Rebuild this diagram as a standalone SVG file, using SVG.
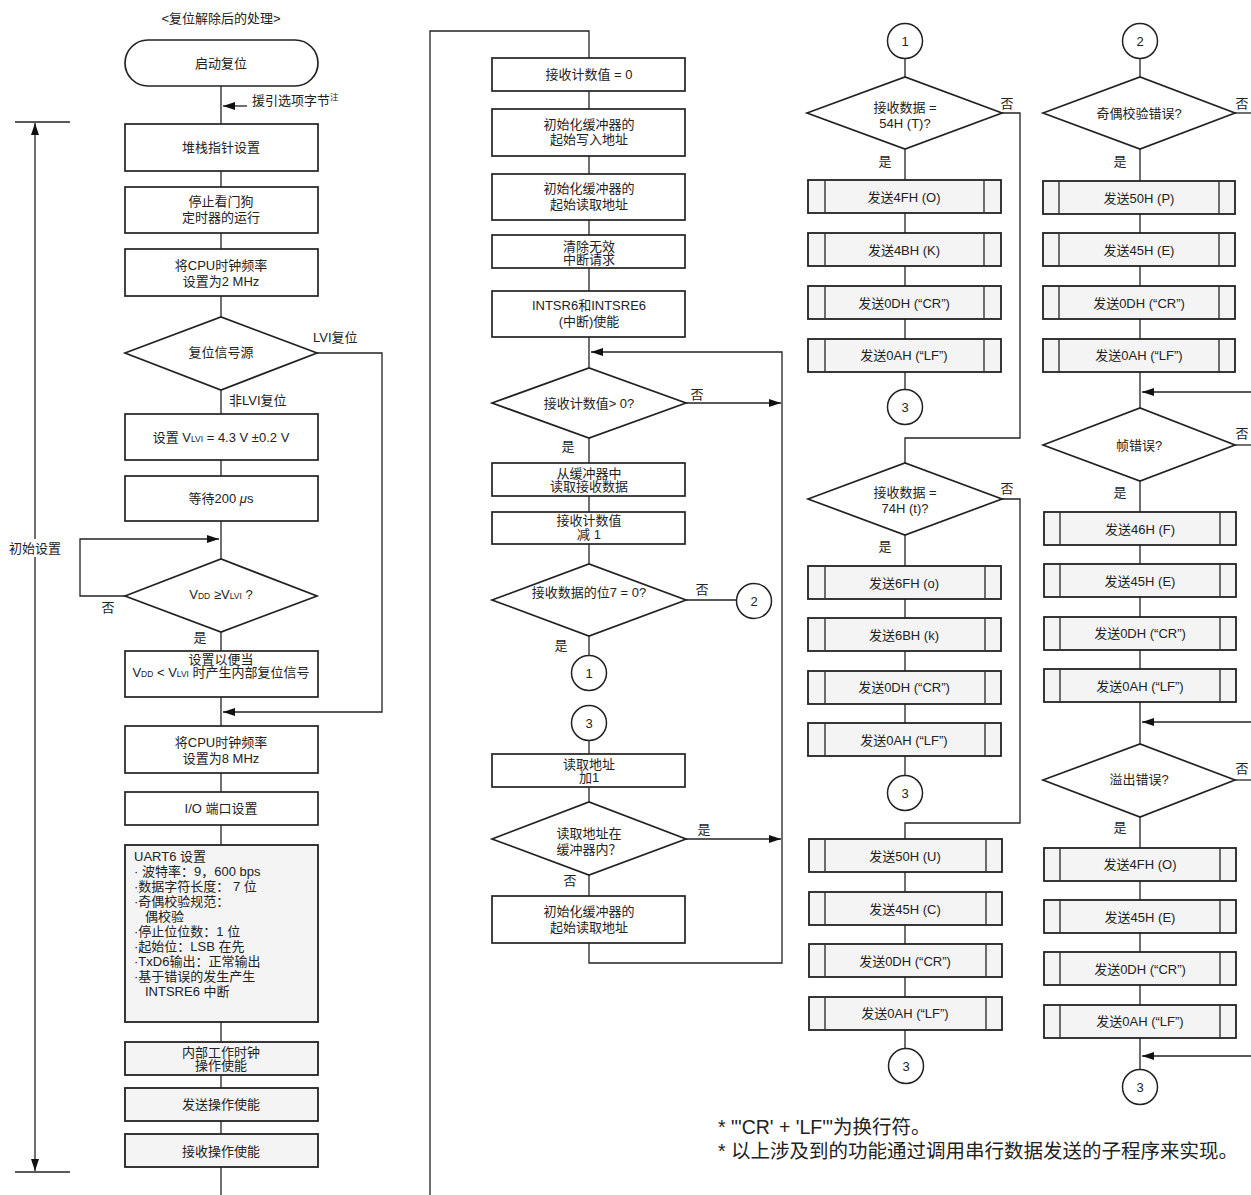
<svg xmlns="http://www.w3.org/2000/svg" width="1251" height="1195" viewBox="0 0 1251 1195">
<defs>
<style>
.b{fill:#fff;stroke:#222;stroke-width:1.7}
.g{fill:#f4f4f4;stroke:#222;stroke-width:1.8}
.bar{stroke:#333;stroke-width:1.4}
.ln{fill:none;stroke:#222;stroke-width:1.3}
.c{fill:#fff;stroke:#222;stroke-width:1.5}
text{font-family:"Liberation Sans","Noto Sans CJK SC",sans-serif;font-size:13px;fill:#222}
.m{text-anchor:middle}
.sub{font-size:8.5px}
.fn{font-size:19.5px}
</style>
<marker id="ar" viewBox="0 0 12 8" refX="12" refY="4" markerWidth="12" markerHeight="8" markerUnits="userSpaceOnUse" orient="auto-start-reverse"><path d="M0,0 L12,4 L0,8 z" fill="#111"/></marker>
</defs>

<g id="connectors">
<!-- left column -->
<line class="ln" x1="221" y1="86" x2="221" y2="124"/>
<line class="ln" x1="247" y1="106" x2="223" y2="106" marker-end="url(#ar)"/>
<line class="ln" x1="221" y1="171" x2="221" y2="187"/>
<line class="ln" x1="221" y1="233" x2="221" y2="249"/>
<line class="ln" x1="221" y1="296" x2="221" y2="317"/>
<line class="ln" x1="221" y1="390" x2="221" y2="414"/>
<polyline class="ln" points="317,353 382,353 382,712 223,712" marker-end="url(#ar)"/>
<line class="ln" x1="221" y1="460" x2="221" y2="476"/>
<line class="ln" x1="221" y1="521" x2="221" y2="559"/>
<polyline class="ln" points="125,596 80,596 80,539 219,539" marker-end="url(#ar)"/>
<line class="ln" x1="221" y1="632" x2="221" y2="651"/>
<line class="ln" x1="221" y1="697" x2="221" y2="726"/>
<line class="ln" x1="221" y1="773" x2="221" y2="792"/>
<line class="ln" x1="221" y1="825" x2="221" y2="845"/>
<line class="ln" x1="221" y1="1022" x2="221" y2="1042"/>
<line class="ln" x1="221" y1="1075" x2="221" y2="1088"/>
<line class="ln" x1="221" y1="1121" x2="221" y2="1134"/>
<line class="ln" x1="221" y1="1167" x2="221" y2="1195"/>
<!-- bracket -->
<line class="ln" x1="15" y1="122" x2="70" y2="122"/>
<line class="ln" x1="15" y1="1172" x2="70" y2="1172"/>
<line class="ln" x1="35" y1="123" x2="35" y2="1171" marker-start="url(#ar)" marker-end="url(#ar)"/>

<!-- middle column -->
<polyline class="ln" points="430,1195 430,31 589,31 589,58"/>
<line class="ln" x1="589" y1="91" x2="589" y2="109"/>
<line class="ln" x1="589" y1="156" x2="589" y2="174"/>
<line class="ln" x1="589" y1="220" x2="589" y2="235"/>
<line class="ln" x1="589" y1="268" x2="589" y2="291"/>
<line class="ln" x1="589" y1="337" x2="589" y2="368"/>
<polyline class="ln" points="589,943 589,963 782,963 782,352 591,352" marker-end="url(#ar)"/>
<line class="ln" x1="686" y1="403" x2="781" y2="403" marker-end="url(#ar)"/>
<line class="ln" x1="589" y1="438" x2="589" y2="463"/>
<line class="ln" x1="589" y1="496" x2="589" y2="512"/>
<line class="ln" x1="589" y1="544" x2="589" y2="564"/>
<line class="ln" x1="686" y1="600" x2="736" y2="600"/>
<line class="ln" x1="589" y1="636" x2="589" y2="656"/>
<line class="ln" x1="589" y1="741" x2="589" y2="754"/>
<line class="ln" x1="589" y1="787" x2="589" y2="802"/>
<line class="ln" x1="686" y1="839" x2="781" y2="839" marker-end="url(#ar)"/>
<line class="ln" x1="589" y1="875" x2="589" y2="896"/>

<!-- right column 1 -->
<line class="ln" x1="905" y1="58" x2="905" y2="77"/>
<polyline class="ln" points="1002,113 1020,113 1020,438 905,438 905,463"/>
<line class="ln" x1="905" y1="149" x2="905" y2="180"/>
<line class="ln" x1="905" y1="213" x2="905" y2="233"/>
<line class="ln" x1="905" y1="266" x2="905" y2="286"/>
<line class="ln" x1="905" y1="319" x2="905" y2="339"/>
<line class="ln" x1="905" y1="372" x2="905" y2="390"/>
<polyline class="ln" points="1002,499 1020,499 1020,823 905,823 905,839"/>
<line class="ln" x1="905" y1="535" x2="905" y2="566"/>
<line class="ln" x1="905" y1="599" x2="905" y2="618"/>
<line class="ln" x1="905" y1="651" x2="905" y2="671"/>
<line class="ln" x1="905" y1="704" x2="905" y2="723"/>
<line class="ln" x1="905" y1="756" x2="905" y2="776"/>
<line class="ln" x1="905" y1="872" x2="905" y2="892"/>
<line class="ln" x1="905" y1="925" x2="905" y2="944"/>
<line class="ln" x1="905" y1="977" x2="905" y2="997"/>
<line class="ln" x1="905" y1="1030" x2="905" y2="1049"/>

<!-- right column 2 -->
<line class="ln" x1="1140" y1="58" x2="1140" y2="77"/>
<line class="ln" x1="1235" y1="113" x2="1251" y2="113"/>
<line class="ln" x1="1140" y1="149" x2="1140" y2="181"/>
<line class="ln" x1="1140" y1="214" x2="1140" y2="233"/>
<line class="ln" x1="1140" y1="266" x2="1140" y2="286"/>
<line class="ln" x1="1140" y1="319" x2="1140" y2="339"/>
<line class="ln" x1="1140" y1="372" x2="1140" y2="408"/>
<line class="ln" x1="1251" y1="392" x2="1142" y2="392" marker-end="url(#ar)"/>
<line class="ln" x1="1235" y1="445" x2="1251" y2="445"/>
<line class="ln" x1="1140" y1="481" x2="1140" y2="512"/>
<line class="ln" x1="1140" y1="545" x2="1140" y2="564"/>
<line class="ln" x1="1140" y1="597" x2="1140" y2="617"/>
<line class="ln" x1="1140" y1="650" x2="1140" y2="669"/>
<line class="ln" x1="1140" y1="702" x2="1140" y2="744"/>
<line class="ln" x1="1251" y1="722" x2="1142" y2="722" marker-end="url(#ar)"/>
<line class="ln" x1="1235" y1="780" x2="1251" y2="780"/>
<line class="ln" x1="1140" y1="817" x2="1140" y2="848"/>
<line class="ln" x1="1140" y1="881" x2="1140" y2="900"/>
<line class="ln" x1="1140" y1="933" x2="1140" y2="952"/>
<line class="ln" x1="1140" y1="985" x2="1140" y2="1005"/>
<line class="ln" x1="1140" y1="1038" x2="1140" y2="1070"/>
<line class="ln" x1="1251" y1="1056" x2="1142" y2="1056" marker-end="url(#ar)"/>
</g>

<g id="labels">
<text class="m" x="221" y="22.5">&lt;复位解除后的处理&gt;</text>
<text x="252" y="105">援引选项字节<tspan font-size="8.5" dy="-5">注</tspan></text>
<text x="313" y="341.5">LVI复位</text>
<text x="229" y="404.5">非LVI复位</text>
<text class="m" x="108" y="611.5">否</text>
<text class="m" x="200" y="641.5">是</text>
<rect x="8" y="539" width="54" height="18" fill="#fff"/>
<text class="m" x="35" y="552.5">初始设置</text>
<text class="m" x="697" y="398.5">否</text>
<text class="m" x="568" y="450.5">是</text>
<text class="m" x="702" y="593.5">否</text>
<text class="m" x="561" y="649.5">是</text>
<text class="m" x="704" y="833.5">是</text>
<text class="m" x="570" y="884.5">否</text>
<text class="m" x="1007" y="107.5">否</text>
<text class="m" x="885" y="165.5">是</text>
<text class="m" x="1007" y="492.5">否</text>
<text class="m" x="885" y="550.5">是</text>
<text class="m" x="1242" y="107.5">否</text>
<text class="m" x="1120" y="165.5">是</text>
<text class="m" x="1242" y="437.5">否</text>
<text class="m" x="1120" y="496.5">是</text>
<text class="m" x="1242" y="772.5">否</text>
<text class="m" x="1120" y="831.5">是</text>
<text class="fn" x="718" y="1133.5">* "'CR' + 'LF'"为换行符。</text>
<text class="fn" x="718" y="1157.5">* 以上涉及到的功能通过调用串行数据发送的子程序来实现。</text>
</g>

<!-- left column nodes -->
<g id="start"><rect class="b" x="125" y="40" width="193" height="46" rx="23"/><text class="m" x="221" y="67.5">启动复位</text></g>
<g id="sp"><rect class="b" x="125" y="124" width="193" height="47"/><text class="m" x="221" y="152">堆栈指针设置</text></g>
<g id="wdt"><rect class="b" x="125" y="187" width="193" height="46"/><text class="m" x="221" y="205.5">停止看门狗</text><text class="m" x="221" y="221.5">定时器的运行</text></g>
<g id="clk2"><rect class="b" x="125" y="249" width="193" height="47"/><text class="m" x="221" y="269.5">将CPU时钟频率</text><text class="m" x="221" y="285.5">设置为2 MHz</text></g>
<g id="rstsrc"><polygon class="b" points="125,353 221,317 317,353 221,390"/><text class="m" x="221" y="356.5">复位信号源</text></g>
<g id="vlvi"><rect class="b" x="125" y="414" width="193" height="46"/><text class="m" x="221" y="441.5">设置 V<tspan class="sub">LVI</tspan> = 4.3 V ±0.2 V</text></g>
<g id="wait"><rect class="b" x="125" y="476" width="193" height="45"/><text class="m" x="221" y="502.5">等待200 <tspan font-style="italic">μ</tspan>s</text></g>
<g id="vdd"><polygon class="b" points="125,596 221,559 317,596 221,632"/><text class="m" x="221" y="598.5">V<tspan class="sub">DD</tspan> ≥V<tspan class="sub">LVI</tspan> ?</text></g>
<g id="lvirst"><rect class="b" x="125" y="651" width="193" height="46"/><text class="m" x="221" y="663.5">设置以便当</text><text class="m" x="221" y="677">V<tspan class="sub">DD</tspan> &lt; V<tspan class="sub">LVI</tspan> 时产生内部复位信号</text></g>
<g id="clk8"><rect class="b" x="125" y="726" width="193" height="47"/><text class="m" x="221" y="746.5">将CPU时钟频率</text><text class="m" x="221" y="762.5">设置为8 MHz</text></g>
<g id="io"><rect class="b" x="125" y="792" width="193" height="33"/><text class="m" x="221" y="812.5">I/O 端口设置</text></g>
<g id="uart"><rect class="g" x="125" y="845" width="193" height="177"/>
<text x="134" y="860.5">UART6 设置</text>
<text x="134" y="875.5">·  波特率：9，600 bps</text>
<text x="134" y="890.5">·数据字符长度： 7 位</text>
<text x="134" y="905.5">·奇偶校验规范：</text>
<text x="145" y="920.5">偶校验</text>
<text x="134" y="935.5">·停止位位数：1 位</text>
<text x="134" y="950.5">·起始位：LSB 在先</text>
<text x="134" y="965.5">·TxD6输出：正常输出</text>
<text x="134" y="980.5">·基于错误的发生产生</text>
<text x="145" y="995.5">INTSRE6 中断</text>
</g>
<g id="intclk"><rect class="g" x="125" y="1042" width="193" height="33"/><text class="m" x="221" y="1056.5">内部工作时钟</text><text class="m" x="221" y="1069.5">操作使能</text></g>
<g id="txen"><rect class="g" x="125" y="1088" width="193" height="33"/><text class="m" x="221" y="1109">发送操作使能</text></g>
<g id="rxen"><rect class="g" x="125" y="1134" width="193" height="33"/><text class="m" x="221" y="1155.5">接收操作使能</text></g>

<!-- middle column nodes -->
<g id="cnt0"><rect class="b" x="492" y="58" width="193" height="33"/><text class="m" x="589" y="79">接收计数值 = 0</text></g>
<g id="wrad"><rect class="b" x="492" y="109" width="193" height="47"/><text class="m" x="589" y="128.5">初始化缓冲器的</text><text class="m" x="589" y="144">起始写入地址</text></g>
<g id="rdad"><rect class="b" x="492" y="174" width="193" height="46"/><text class="m" x="589" y="192.5">初始化缓冲器的</text><text class="m" x="589" y="208.5">起始读取地址</text></g>
<g id="clr"><rect class="b" x="492" y="235" width="193" height="33"/><text class="m" x="589" y="250.5">清除无效</text><text class="m" x="589" y="263.5">中断请求</text></g>
<g id="inten"><rect class="b" x="492" y="291" width="193" height="46"/><text class="m" x="589" y="309.5">INTSR6和INTSRE6</text><text class="m" x="589" y="325.5">(中断)使能</text></g>
<g id="cntgt"><polygon class="b" points="492,403 589,368 686,403 589,438"/><text class="m" x="589" y="407.5">接收计数值&gt; 0?</text></g>
<g id="rdbuf"><rect class="b" x="492" y="463" width="193" height="33"/><text class="m" x="589" y="477.5">从缓冲器中</text><text class="m" x="589" y="490.5">读取接收数据</text></g>
<g id="dec"><rect class="b" x="492" y="512" width="193" height="32"/><text class="m" x="589" y="525">接收计数值</text><text class="m" x="589" y="538.5">减 1</text></g>
<g id="bit7"><polygon class="b" points="492,600 589,564 686,600 589,636"/><text class="m" x="589" y="596.5">接收数据的位7 = 0?</text></g>
<g id="c2a"><circle class="c" cx="754" cy="601" r="17.5"/><text class="m" x="754" y="605.5">2</text></g>
<g id="c1a"><circle class="c" cx="589" cy="673" r="17.5"/><text class="m" x="589" y="677.5">1</text></g>
<g id="c3a"><circle class="c" cx="589" cy="723" r="17.5"/><text class="m" x="589" y="727.5">3</text></g>
<g id="inc"><rect class="b" x="492" y="754" width="193" height="33"/><text class="m" x="589" y="768.5">读取地址</text><text class="m" x="589" y="782">加1</text></g>
<g id="inbuf"><polygon class="b" points="492,839 589,802 686,839 589,875"/><text class="m" x="589" y="837.5">读取地址在</text><text class="m" x="589" y="853.5">缓冲器内？</text></g>
<g id="rdad2"><rect class="b" x="492" y="896" width="193" height="47"/><text class="m" x="589" y="915.5">初始化缓冲器的</text><text class="m" x="589" y="931.5">起始读取地址</text></g>

<!-- right column 1 nodes -->
<g id="c1b"><circle class="c" cx="905" cy="41" r="17.5"/><text class="m" x="905" y="45.5">1</text></g>
<g id="d54"><polygon class="b" points="807,113 905,77 1002,113 905,149"/><text class="m" x="905" y="111.5">接收数据 =</text><text class="m" x="905" y="127.5">54H (T)?</text></g>
<g id="s4f"><rect class="g" x="808" y="180" width="193" height="33"/><line class="bar" x1="825" y1="180" x2="825" y2="213"/><line class="bar" x1="984" y1="180" x2="984" y2="213"/><text class="m" x="904" y="201.5">发送4FH (O)</text></g>
<g id="s4b"><rect class="g" x="808" y="233" width="193" height="33"/><line class="bar" x1="825" y1="233" x2="825" y2="266"/><line class="bar" x1="984" y1="233" x2="984" y2="266"/><text class="m" x="904" y="254.5">发送4BH (K)</text></g>
<g id="s0d1"><rect class="g" x="808" y="286" width="193" height="33"/><line class="bar" x1="825" y1="286" x2="825" y2="319"/><line class="bar" x1="984" y1="286" x2="984" y2="319"/><text class="m" x="904" y="307.5">发送0DH (“CR”)</text></g>
<g id="s0a1"><rect class="g" x="808" y="339" width="193" height="33"/><line class="bar" x1="825" y1="339" x2="825" y2="372"/><line class="bar" x1="984" y1="339" x2="984" y2="372"/><text class="m" x="904" y="360">发送0AH (“LF”)</text></g>
<g id="c3b"><circle class="c" cx="905" cy="407" r="17.5"/><text class="m" x="905" y="411.5">3</text></g>
<g id="d74"><polygon class="b" points="808,499 905,463 1002,499 905,535"/><text class="m" x="905" y="496.5">接收数据 =</text><text class="m" x="905" y="512.5">74H (t)?</text></g>
<g id="s6f"><rect class="g" x="808" y="566" width="193" height="33"/><line class="bar" x1="825" y1="566" x2="825" y2="599"/><line class="bar" x1="985" y1="566" x2="985" y2="599"/><text class="m" x="904" y="587.5">发送6FH (o)</text></g>
<g id="s6b"><rect class="g" x="808" y="618" width="193" height="33"/><line class="bar" x1="825" y1="618" x2="825" y2="651"/><line class="bar" x1="985" y1="618" x2="985" y2="651"/><text class="m" x="904" y="639.5">发送6BH (k)</text></g>
<g id="s0d2"><rect class="g" x="808" y="671" width="193" height="33"/><line class="bar" x1="825" y1="671" x2="825" y2="704"/><line class="bar" x1="985" y1="671" x2="985" y2="704"/><text class="m" x="904" y="692">发送0DH (“CR”)</text></g>
<g id="s0a2"><rect class="g" x="808" y="723" width="193" height="33"/><line class="bar" x1="825" y1="723" x2="825" y2="756"/><line class="bar" x1="985" y1="723" x2="985" y2="756"/><text class="m" x="904" y="744.5">发送0AH (“LF”)</text></g>
<g id="c3c"><circle class="c" cx="905" cy="793" r="17.5"/><text class="m" x="905" y="797.5">3</text></g>
<g id="s50u"><rect class="g" x="809" y="839" width="193" height="33"/><line class="bar" x1="825" y1="839" x2="825" y2="872"/><line class="bar" x1="986" y1="839" x2="986" y2="872"/><text class="m" x="905" y="860.5">发送50H (U)</text></g>
<g id="s45c"><rect class="g" x="809" y="892" width="193" height="33"/><line class="bar" x1="825" y1="892" x2="825" y2="925"/><line class="bar" x1="986" y1="892" x2="986" y2="925"/><text class="m" x="905" y="913.5">发送45H (C)</text></g>
<g id="s0d3"><rect class="g" x="809" y="944" width="193" height="33"/><line class="bar" x1="825" y1="944" x2="825" y2="977"/><line class="bar" x1="986" y1="944" x2="986" y2="977"/><text class="m" x="905" y="965.5">发送0DH (“CR”)</text></g>
<g id="s0a3"><rect class="g" x="809" y="997" width="193" height="33"/><line class="bar" x1="825" y1="997" x2="825" y2="1030"/><line class="bar" x1="986" y1="997" x2="986" y2="1030"/><text class="m" x="905" y="1018">发送0AH (“LF”)</text></g>
<g id="c3d"><circle class="c" cx="906" cy="1066" r="17.5"/><text class="m" x="906" y="1070.5">3</text></g>

<!-- right column 2 nodes -->
<g id="c2b"><circle class="c" cx="1140" cy="41" r="17.5"/><text class="m" x="1140" y="45.5">2</text></g>
<g id="dpar"><polygon class="b" points="1043,113 1140,77 1235,113 1140,149"/><text class="m" x="1139" y="117.5">奇偶校验错误?</text></g>
<g id="s50p"><rect class="g" x="1043" y="181" width="192" height="33"/><line class="bar" x1="1059" y1="181" x2="1059" y2="214"/><line class="bar" x1="1219" y1="181" x2="1219" y2="214"/><text class="m" x="1139" y="202.5">发送50H (P)</text></g>
<g id="s45e1"><rect class="g" x="1043" y="233" width="192" height="33"/><line class="bar" x1="1059" y1="233" x2="1059" y2="266"/><line class="bar" x1="1219" y1="233" x2="1219" y2="266"/><text class="m" x="1139" y="254.5">发送45H (E)</text></g>
<g id="s0d4"><rect class="g" x="1043" y="286" width="192" height="33"/><line class="bar" x1="1059" y1="286" x2="1059" y2="319"/><line class="bar" x1="1219" y1="286" x2="1219" y2="319"/><text class="m" x="1139" y="307.5">发送0DH (“CR”)</text></g>
<g id="s0a4"><rect class="g" x="1043" y="339" width="192" height="33"/><line class="bar" x1="1059" y1="339" x2="1059" y2="372"/><line class="bar" x1="1219" y1="339" x2="1219" y2="372"/><text class="m" x="1139" y="360">发送0AH (“LF”)</text></g>
<g id="dfrm"><polygon class="b" points="1043,445 1140,408 1235,445 1140,481"/><text class="m" x="1139" y="449.5">帧错误?</text></g>
<g id="s46f"><rect class="g" x="1044" y="512" width="192" height="33"/><line class="bar" x1="1060" y1="512" x2="1060" y2="545"/><line class="bar" x1="1220" y1="512" x2="1220" y2="545"/><text class="m" x="1140" y="533.5">发送46H (F)</text></g>
<g id="s45e2"><rect class="g" x="1044" y="564" width="192" height="33"/><line class="bar" x1="1060" y1="564" x2="1060" y2="597"/><line class="bar" x1="1220" y1="564" x2="1220" y2="597"/><text class="m" x="1140" y="585.5">发送45H (E)</text></g>
<g id="s0d5"><rect class="g" x="1044" y="617" width="192" height="33"/><line class="bar" x1="1060" y1="617" x2="1060" y2="650"/><line class="bar" x1="1220" y1="617" x2="1220" y2="650"/><text class="m" x="1140" y="638">发送0DH (“CR”)</text></g>
<g id="s0a5"><rect class="g" x="1044" y="669" width="192" height="33"/><line class="bar" x1="1060" y1="669" x2="1060" y2="702"/><line class="bar" x1="1220" y1="669" x2="1220" y2="702"/><text class="m" x="1140" y="690.5">发送0AH (“LF”)</text></g>
<g id="dovr"><polygon class="b" points="1043,780 1140,744 1235,780 1140,817"/><text class="m" x="1139" y="783.5">溢出错误?</text></g>
<g id="s4fo"><rect class="g" x="1044" y="848" width="192" height="33"/><line class="bar" x1="1060" y1="848" x2="1060" y2="881"/><line class="bar" x1="1220" y1="848" x2="1220" y2="881"/><text class="m" x="1140" y="869">发送4FH (O)</text></g>
<g id="s45e3"><rect class="g" x="1044" y="900" width="192" height="33"/><line class="bar" x1="1060" y1="900" x2="1060" y2="933"/><line class="bar" x1="1220" y1="900" x2="1220" y2="933"/><text class="m" x="1140" y="921.5">发送45H (E)</text></g>
<g id="s0d6"><rect class="g" x="1044" y="952" width="192" height="33"/><line class="bar" x1="1060" y1="952" x2="1060" y2="985"/><line class="bar" x1="1220" y1="952" x2="1220" y2="985"/><text class="m" x="1140" y="973.5">发送0DH (“CR”)</text></g>
<g id="s0a6"><rect class="g" x="1044" y="1005" width="192" height="33"/><line class="bar" x1="1060" y1="1005" x2="1060" y2="1038"/><line class="bar" x1="1220" y1="1005" x2="1220" y2="1038"/><text class="m" x="1140" y="1026">发送0AH (“LF”)</text></g>
<g id="c3e"><circle class="c" cx="1140" cy="1087" r="17.5"/><text class="m" x="1140" y="1091.5">3</text></g>
</svg>
